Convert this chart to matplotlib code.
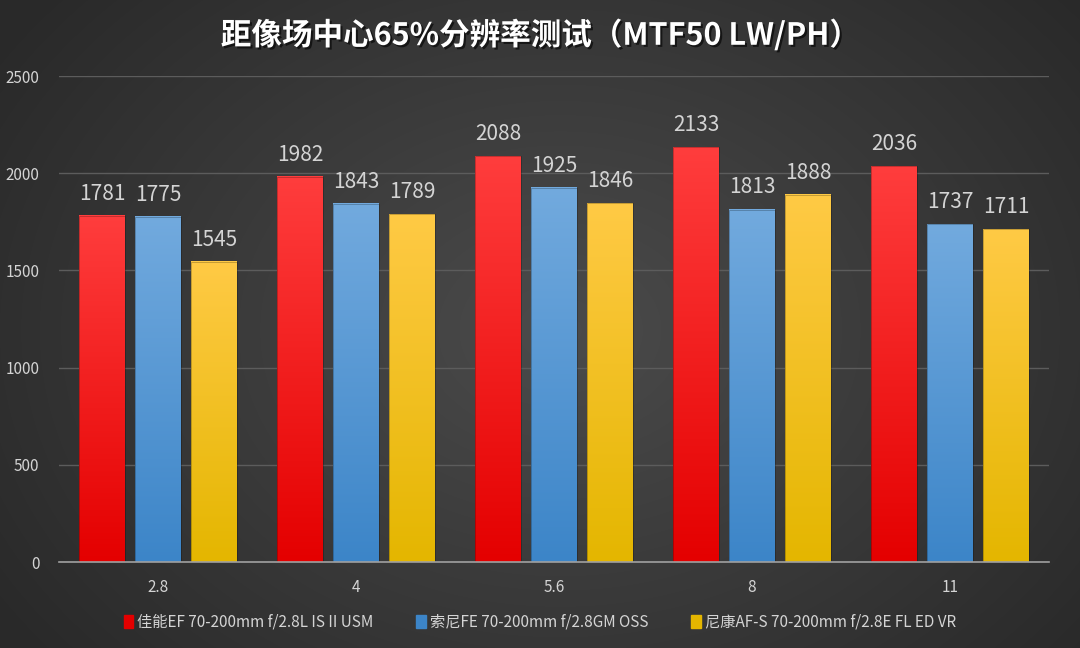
import numpy as np
import matplotlib
matplotlib.use("Agg")
from matplotlib import pyplot as plt
from matplotlib.colors import LinearSegmentedColormap
import matplotlib.patheffects as pe

plt.rcParams['font.family'] = ['Noto Sans CJK SC', 'DejaVu Sans']

# data
apertures = ["2.8", "4", "5.6", "8", "11"]
canon = [1781, 1982, 2088, 2133, 2036]
sony = [1775, 1843, 1925, 1813, 1737]
nikon = [1545, 1789, 1846, 1888, 1711]
series_names = ["佳能EF 70-200mm f/2.8L IS II USM",
                "索尼FE 70-200mm f/2.8GM OSS",
                "尼康AF-S 70-200mm f/2.8E FL ED VR"]
title = "距像场中心65%分辨率测试（MTF50 LW/PH）"

# top colour, bottom colour for each series
grad_colors = [("#ff3d3d", "#e40000"), ("#72aade", "#3c85c8"), ("#ffca45", "#e4b600")]
text_col = "#d4d4d4"

fig = plt.figure(figsize=(10.8, 6.48), dpi=100)

# background: soft radial gradient
bg = fig.add_axes([0, 0, 1, 1])
yy, xx = np.mgrid[0:648, 0:1080]
r = np.sqrt(((xx - 560) / 680.0) ** 2 + ((yy - 330) / 520.0) ** 2)
bg_cmap = LinearSegmentedColormap.from_list("bg", ["#4b4b4b", "#292929"])
bg.imshow(np.clip(r, 0, 1), cmap=bg_cmap, aspect="auto", vmin=0, vmax=1)
bg.axis("off")

ax = fig.add_axes([0.0546, 0.1327, 0.9167, 0.75])
ax.set_facecolor("none")

x = np.arange(len(apertures))
offs = [-0.283, 0.0, 0.283]
w = 0.228
grad = np.linspace(1, 0, 256).reshape(-1, 1)

for vals, off, (ctop, cbot) in zip([canon, sony, nikon], offs, grad_colors):
    cm = LinearSegmentedColormap.from_list("g", [cbot, ctop])
    for xi, v in zip(x, vals):
        x0 = xi + off - w / 2
        ax.imshow(grad, extent=[x0, x0 + w, 0, v], aspect="auto", cmap=cm,
                  vmin=0, vmax=1, zorder=3)
        ax.bar(xi + off, v, width=w, color="none", edgecolor="#00000044",
               linewidth=0.6, zorder=4)
        ax.annotate(str(v), (xi + off, v), xytext=(0, 8), textcoords="offset points",
                    ha="center", va="bottom", fontsize=15, color=text_col, zorder=5)

ax.set_xlim(-0.5, 4.5)
ax.set_ylim(0, 2500)
ax.set_yticks(range(0, 2501, 500))
ax.set_xticks(x)
ax.set_xticklabels(apertures)
ax.yaxis.grid(True, color="#5c5c5c", linewidth=1)
ax.set_axisbelow(True)
for s in ["top", "right", "left"]:
    ax.spines[s].set_visible(False)
ax.spines["bottom"].set_color("#a0a0a0")
ax.spines["bottom"].set_linewidth(1.2)
ax.spines["bottom"].set_zorder(6)
ax.tick_params(axis="both", length=0, colors=text_col, labelsize=11)
ax.tick_params(axis="x", pad=12)
ax.tick_params(axis="y", pad=14)

fig.text(0.5, 0.945, title, ha="center", va="center", fontsize=22, fontweight="bold",
         color="white",
         path_effects=[pe.withSimplePatchShadow(offset=(1.5, -1.5), shadow_rgbFace="black", alpha=0.6)])

# legend
handles = [plt.Rectangle((0, 0), 1, 1, color=c[1]) for c in grad_colors]
leg = fig.legend(handles, series_names, loc="center", bbox_to_anchor=(0.5, 0.04), ncol=3,
                 frameon=False, fontsize=11, handlelength=0.6, handleheight=0.9,
                 handletextpad=0.3, columnspacing=2.8, labelcolor=text_col)

fig.savefig("out.png", dpi=100)
